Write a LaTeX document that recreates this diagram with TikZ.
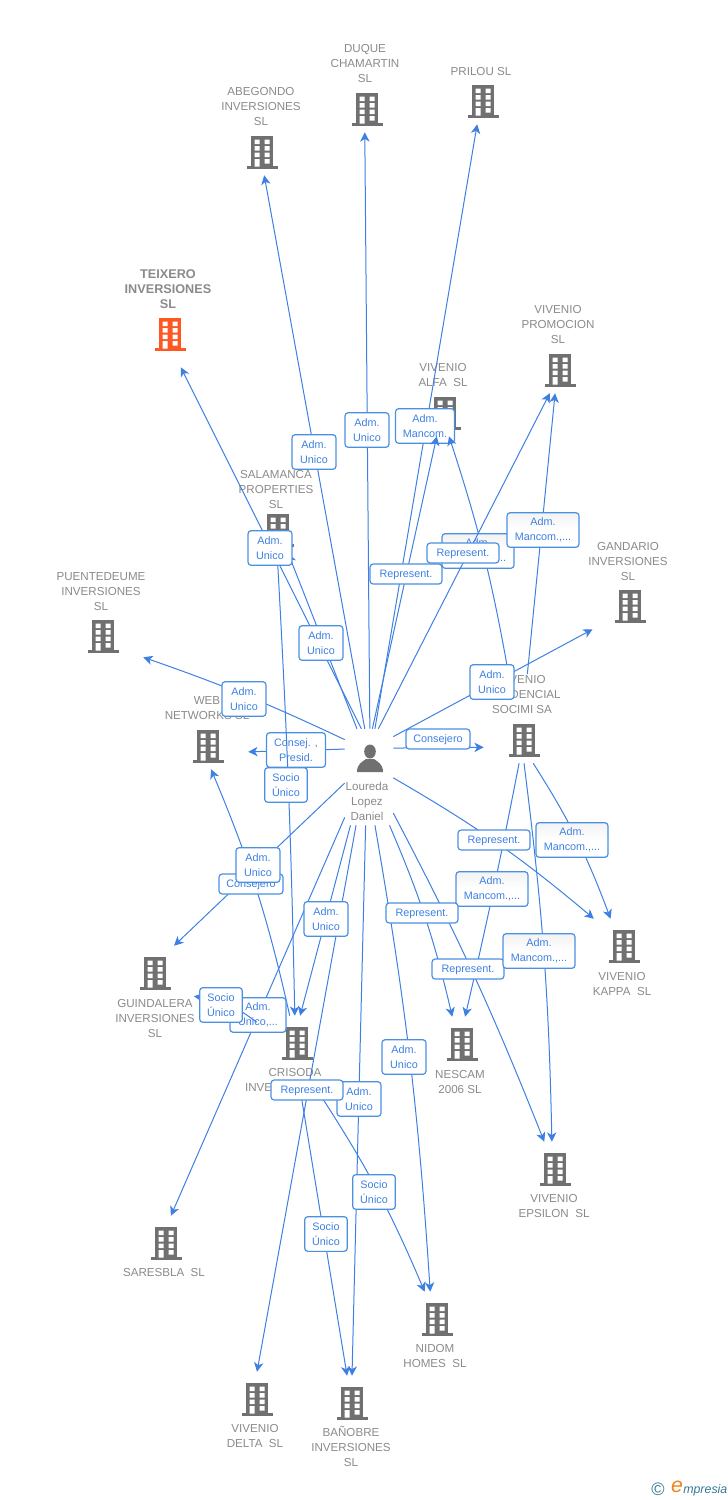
\documentclass[tikz,border=0pt]{standalone}
\usepackage{fontspec}
\setmainfont{Liberation Sans}
\usepackage{xcolor}
\usetikzlibrary{arrows.meta}

\definecolor{linkblue}{RGB}{62,128,226}
\definecolor{tagblue}{RGB}{74,144,226}
\definecolor{firmgray}{RGB}{112,112,112}
\definecolor{firmtext}{RGB}{138,138,138}
\definecolor{firmorange}{RGB}{255,87,34}
\definecolor{logoteal}{RGB}{56,120,150}
\definecolor{logoorange}{RGB}{240,130,30}

\tikzset{
  link/.style={draw=linkblue,line width=0.75pt,-{Stealth[length=7pt,width=7pt,inset=2pt]}},
  firm/.style={minimum width=60pt,minimum height=37.5pt,inner sep=0pt},
  person/.style={minimum width=36pt,minimum height=72pt,inner sep=0pt},
  firmname/.style={inner sep=0.4pt,align=center,text=firmtext,font=\fontsize{8.7}{11.25}\selectfont},
  tag/.style={draw=tagblue,line width=0.9pt,rounded corners=2.4pt,fill=white,inner sep=0pt,align=center,text=linkblue,font=\fontsize{8.1}{11.25}\selectfont,minimum height=26pt},
  tagone/.style={tag,minimum height=15pt,text height=7.6pt,text depth=2pt},
  tagshade/.style={tag,top color=black!5,bottom color=white,middle color=white},
  pics/office/.style={code={
    \fill[#1] (-11,14) rectangle (11,-17);
    \fill[#1] (-15.5,-16) rectangle (15.5,-19);
    \fill[white] (-7.5,10.5) rectangle (-2.5,6) (2.5,10.5) rectangle (7.5,6);
    \fill[white] (-7.5,4) rectangle (-2.5,-0.5) (2.5,4) rectangle (7.5,-0.5);
    \fill[white] (-7.5,-2.5) rectangle (-2.5,-7) (2.5,-2.5) rectangle (7.5,-7);
    \fill[white] (-7.5,-9) rectangle (-2.5,-16.5) (2.5,-9) rectangle (7.5,-13.5);
  }},
}

\begin{document}
\begin{tikzpicture}[x=0.75pt,y=0.75pt,yscale=-1,xscale=1]
\useasboundingbox (0,0) rectangle (728,1500);

%Company nodes
\path (262,150) pic {office=firmgray} node [firm] (abegondo) {};
\path (367,107) pic {office=firmgray} node [firm] (duque) {};
\path (483,99) pic {office=firmgray} node [firm] (prilou) {};
\path (170,332) pic {office=firmorange} node [firm,minimum height=52.5pt] (teixero) {};
\path (560,368) pic {office=firmgray} node [firm] (promocion) {};
\path (445,411) pic {office=firmgray} node [firm] (alfa) {};
\path (278,528) pic {office=firmgray} node [firm] (salamanca) {};
\path (630,604) pic {office=firmgray} node [firm] (gandario) {};
\path (103,634) pic {office=firmgray} node [firm] (puentedeume) {};
\path (208,744) pic {office=firmgray} node [firm] (web) {};
\path (524,738) pic {office=firmgray} node [firm] (residencial) {};
\path (624,944) pic {office=firmgray} node [firm] (kappa) {};
\path (155,971) pic {office=firmgray} node [firm] (guindalera) {};
\path (297,1041) pic {office=firmgray} node [firm] (crisoda) {};
\path (462,1042) pic {office=firmgray} node [firm] (nescam) {};
\path (555,1167) pic {office=firmgray} node [firm] (epsilon) {};
\path (166,1241) pic {office=firmgray} node [firm] (saresbla) {};
\path (437,1317) pic {office=firmgray} node [firm] (nidom) {};
\path (257,1397) pic {office=firmgray} node [firm] (delta) {};
\path (352,1401) pic {office=firmgray} node [firm] (banobre) {};

%Person
\node [person] (loureda) at (369,777) {};
\fill [firmgray] (370,751.5) ellipse (5.8 and 7);
\fill [firmgray] (357,772) .. controls (357,764) and (362,762) .. (366,759) -- (374,759) .. controls (378,762) and (383,764) .. (383,772) -- cycle;

%Text Node
\node [firmname] (abegondoname) at (261,107) {ABEGONDO\\INVERSIONES\\SL};
\node [firmname] (duquename) at (365,64) {DUQUE\\CHAMARTIN\\SL};
\node [firmname] (priloname) at (481,72) {PRILOU SL};
\node [firmname,font=\fontsize{9.5}{11.25}\selectfont\bfseries] (teixeroname) at (168,289.5) {TEIXERO\\INVERSIONES\\SL};
\node [firmname] (promocionname) at (558,324) {VIVENIO\\PROMOCION\\SL};
\node [firmname] (alfaname) at (443,374.5) {VIVENIO\\ALFA\ \ SL};
\node [firmname] (salamancaname) at (276,489) {SALAMANCA\\PROPERTIES\\SL};
\node [firmname] (gandarioname) at (628,561) {GANDARIO\\INVERSIONES\\SL};
\node [firmname] (puentedeumename) at (101,592) {PUENTEDEUME\\INVERSIONES\\SL};
\node [firmname] (webname) at (207,708) {WEB\\NETWORKS SL};
\node [firmname] (residencialname) at (522,694) {VIVENIO\\RESIDENCIAL\\SOCIMI SA};
\node [firmname] (kappaname) at (622,983.5) {VIVENIO\\KAPPA\ \ SL};
\node [firmname] (guindaleraname) at (155,1018) {GUINDALERA\\INVERSIONES\\SL};
\node [firmname] (crisodaname) at (295,1079.5) {CRISODA\\INVERSIONES\ \ SL};
\node [firmname] (nescamname) at (460,1081.5) {NESCAM\\2006 SL};
\node [firmname] (epsilonname) at (554,1205.5) {VIVENIO\\EPSILON\ \ SL};
\node [firmname] (saresblaname) at (164,1272) {SARESBLA\ \ SL};
\node [firmname] (nidomname) at (435,1355.5) {NIDOM\\HOMES\ \ SL};
\node [firmname] (deltaname) at (255,1435.5) {VIVENIO\\DELTA\ \ SL};
\node [firmname] (banobrename) at (351,1446.5) {BAÑOBRE\\INVERSIONES\\SL};
\node [firmname] (lourename) at (367,801) {Loureda\\Lopez\\Daniel};

%Straight Lines
\draw [link] (loureda.123) to[bend left=3] (puentedeume.-30);
\draw [link] (loureda.95) -- (abegondo.-85);
\draw [link] (loureda.89) -- (duque.-95);
\draw [link] (loureda.99) -- (teixero.-73);
\draw [link] (loureda.104) -- (salamanca.-68);
\draw [link] (loureda.83) -- (prilou.-103);
\draw [link] (loureda.59) -- (gandario.-146);
\draw [link] (loureda.50) -- (residencial.-167);
\draw [link] (loureda.131) -- (web.-11);
\draw [link] (loureda.-166) -- (guindalera.53);
\draw [link] (loureda.-121) -- (saresbla.79);
\draw [link] (loureda.-111) -- (crisoda.83);
\draw [link] (loureda.-105) -- (delta.90);
\draw [link] (loureda.-94) -- (banobre.90);
\draw [link] (loureda.-83) to[bend right=3] (nidom.105);
\draw [link] (loureda.-67) to[bend right=5] (nescam.111);
\draw [link] (loureda.-56) to[bend right=3] (epsilon.113);
\draw [link] (loureda.-2) to[bend right=5] (kappa.140);
\draw [link] (residencial.-101) to[bend right=1] (nescam.83);
\draw [link] (residencial.-90) to[bend right=3] (epsilon.97);
\draw [link] (residencial.-70) to[bend right=6] (kappa.118);
\draw [link] (residencialname.75) -- (promocion.-101);
\draw [link] (crisoda.106) to[bend left=5] (web.-83);
\draw [link] (crisodaname.-66) -- (banobre.101);
\draw [link] (crisodaname.-28) to[bend right=5] (nidom.116);

%Tags under the later lines
\node [tag,minimum width=44.25pt] (tagconsej) at (296,750) {Consej. ,\\Presid.};
\node [tag,minimum width=42pt] (tagunicob) at (258,1015) {Adm.\\Unico,...};
\node [tag,minimum width=44.25pt] (tagmancomb) at (425,426) {Adm.\\Mancom.};

%Later lines
\draw [link] (salamanca.-92) to[bend right=1] (crisoda.95);
\draw [link] (crisoda.155) to[bend left=15] (guindalera.-33);
\draw [link] (loureda.86) -- (alfa.-108);
\draw [link] (residencialname.124) to[bend left=4] (alfa.-81);
\node [tagshade,minimum width=54pt] (tagmancoma) at (478,551) {Adm.\\Mancom.,...};
\draw [link] (loureda.79) -- (promocion.-112);

%Tags
\node [tag,minimum width=33pt] (tagabegondo) at (314,452) {Adm.\\Unico};
\node [tag,minimum width=33pt] (tagduque) at (367,430) {Adm.\\Unico};
\node [tagshade,minimum width=54pt] (tagpromocion) at (543,530) {Adm.\\Mancom.,...};
\node [tagone,minimum width=54pt] (tagreprb) at (463,553) {Represent.};
\node [tagone,minimum width=54pt] (tagrepra) at (406,574) {Represent.};
\node [tag,minimum width=33pt] (tagteixero) at (270,548) {Adm.\\Unico};
\node [tag,minimum width=33pt] (tagsalamanca) at (321,643) {Adm.\\Unico};
\node [tag,minimum width=33pt] (taggandario) at (492,682) {Adm.\\Unico};
\node [tag,minimum width=33pt] (tagpuente) at (244,699) {Adm.\\Unico};
\node [tagone,minimum width=48pt] (tagconsejeroa) at (438,739) {Consejero};
\node [tag,minimum width=32pt] (tagsociob) at (286,785) {Socio\\Único};
\node [tagone,minimum width=48pt] (tagconsejerob) at (251,884) {Consejero};
\node [tag,minimum width=33pt] (tagweb) at (258,865) {Adm.\\Unico};
\node [tag,minimum width=33pt] (tagcrisoda) at (326,919) {Adm.\\Unico};
\node [tagone,minimum width=54pt] (tagreprc) at (494,840) {Represent.};
\node [tagshade,minimum width=54pt] (tagkappa) at (572,840) {Adm.\\Mancom.,...};
\node [tagshade,minimum width=54pt] (tagnescam) at (492,889) {Adm.\\Mancom.,...};
\node [tagone,minimum width=54pt] (tagreprd) at (422,913) {Represent.};
\node [tagone,minimum width=54pt] (tagrepre) at (468,969) {Represent.};
\node [tagshade,minimum width=54pt] (tagepsilon) at (539,951) {Adm.\\Mancom.,...};
\node [tag,minimum width=32pt] (tagguindalera) at (221,1005) {Socio\\Único};
\node [tag,minimum width=33pt] (tagnidom) at (404,1057) {Adm.\\Unico};
\node [tag,minimum width=33pt] (tagbanobre) at (359,1099) {Adm.\\Unico};
\node [tagone,minimum width=54pt] (tagreprf) at (307,1090) {Represent.};
\node [tag,minimum width=32pt] (tagsocionidom) at (374,1192) {Socio\\Único};
\node [tag,minimum width=32pt] (tagsociobanobre) at (326,1234) {Socio\\Único};

%Logo
\node [text=logoteal,inner sep=0pt,font=\fontsize{13.5}{14}\selectfont] (logosign) at (658,1489) {©};
\node [text=logoorange,inner sep=0pt,font=\fontsize{16}{16}\selectfont\itshape] (logoe) at (677,1487) {e};
\node [text=logoteal,inner sep=0pt,anchor=west,font=\fontsize{9.3}{10}\selectfont\itshape] (logotext) at (683,1490) {mpresia};

\end{tikzpicture}
\end{document}
